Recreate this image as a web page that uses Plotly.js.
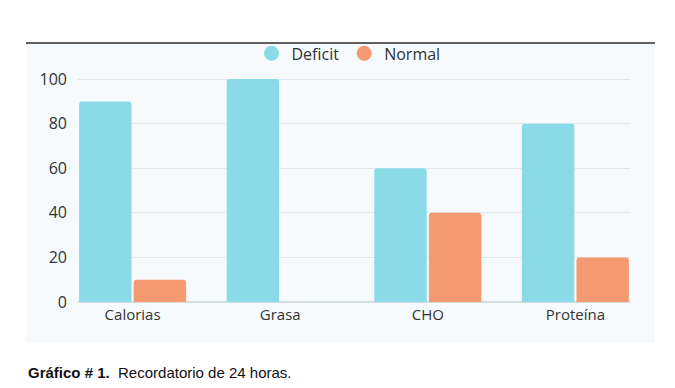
<!DOCTYPE html>
<html>
<head>
<meta charset="utf-8">
<script src="https://cdn.plot.ly/plotly-3.0.1.min.js"></script>
<style>html,body{margin:0;padding:0;background:#fff;}#chart{width:675px;height:388px;}</style>
</head>
<body>
<div id="chart"></div>
<script>
const categories = ["Calorias", "Grasa", "CHO", "Proteína"];
const deficitValues = [90, 100, 60, 80];
const normalValues = [10, 0, 40, 20];
const seriesNames = ["Deficit", "Normal"];
const yTicks = [0, 20, 40, 60, 80, 100];
const captionBold = "Gráfico # 1.";
const captionText = "Recordatorio de 24 horas.";

const cDef = "#8adbe7", cNor = "#f59a70";
const font = "'Open Sans', sans-serif";

const data = [
  {type: "bar", x: categories, y: deficitValues, name: seriesNames[0], marker: {color: cDef}, showlegend: false, hoverinfo: "skip"},
  {type: "bar", x: categories, y: normalValues, name: seriesNames[1], marker: {color: cNor}, showlegend: false, hoverinfo: "skip"},
  {type: "scatter", mode: "markers", x: [null], y: [null], name: seriesNames[0], marker: {color: cDef, size: 15, symbol: "circle"}},
  {type: "scatter", mode: "markers", x: [null], y: [null], name: seriesNames[1], marker: {color: cNor, size: 15, symbol: "circle"}}
];

const layout = {
  width: 675, height: 388,
  margin: {l: 78, r: 45, t: 78, b: 86},
  paper_bgcolor: "#ffffff",
  plot_bgcolor: "rgba(0,0,0,0)",
  barmode: "group",
  bargap: 0.26,
  bargroupgap: 0.04,
  barcornerradius: 3,
  font: {family: font, color: "#333333", size: 14},
  xaxis: {
    type: "category", range: [-0.37, 3.37], showgrid: false, zeroline: false,
    showline: false, ticks: "", tickfont: {size: 15, color: "#333333"}, ticklabelstandoff: 2
  },
  yaxis: {
    range: [0, 100.5], tickvals: yTicks, showgrid: true, gridcolor: "#dfe8ec", gridwidth: 1,
    zeroline: true, zerolinecolor: "#d5dde1", zerolinewidth: 1.5, showline: false, ticks: "",
    tickfont: {size: 16, color: "#333333"}, ticklabelstandoff: 10
  },
  legend: {
    orientation: "h", x: 0.49, xanchor: "center", y: 1.11, yanchor: "middle",
    font: {size: 16, color: "#333333"}, bgcolor: "rgba(0,0,0,0)", itemwidth: 30, tracegroupgap: 0
  },
  shapes: [
    {type: "rect", xref: "paper", yref: "paper", x0: -0.0942, x1: 1.0453, y0: -0.183, y1: 1.156,
     fillcolor: "#f6fafc", line: {width: 0}, layer: "below"},
    {type: "line", xref: "paper", yref: "paper", x0: -0.0942, x1: 1.0453, y0: 1.156, y1: 1.156,
     line: {color: "#2b2b2b", width: 1.5}}
  ],
  annotations: [
    {xref: "paper", yref: "paper", x: -0.0942, y: -0.315, xanchor: "left", yanchor: "middle", showarrow: false,
     text: "<b>" + captionBold + "</b>  " + captionText,
     font: {family: "'Liberation Sans', Arial, sans-serif", size: 15, color: "#111"}}
  ]
};

Plotly.newPlot("chart", data, layout, {displayModeBar: false, staticPlot: true});
</script>
</body>
</html>
